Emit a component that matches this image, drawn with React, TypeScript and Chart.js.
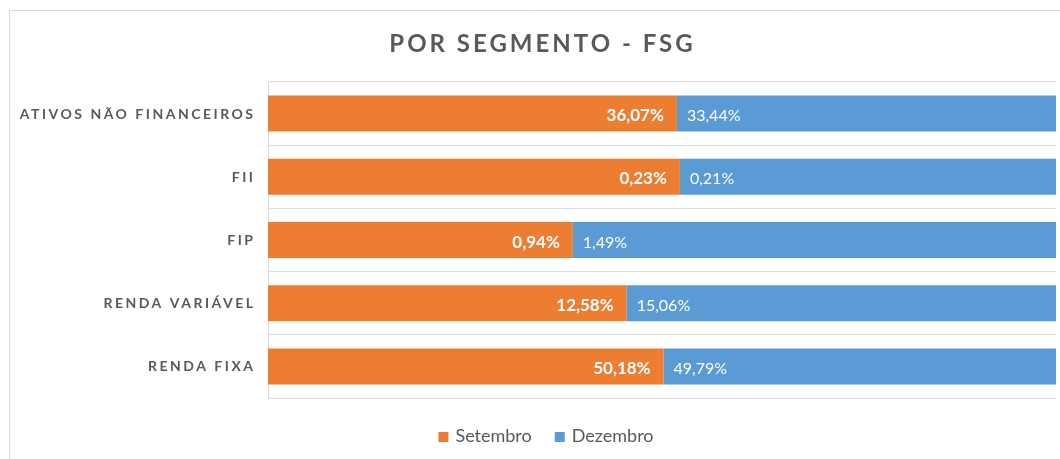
import React, { useEffect, useRef } from 'react';
import { Chart, registerables } from 'chart.js';

Chart.register(...registerables);

const categories = ['ATIVOS NÃO FINANCEIROS', 'FII', 'FIP', 'RENDA VARIÁVEL', 'RENDA FIXA'];
const setembro = [36.07, 0.23, 0.94, 12.58, 50.18];
const dezembro = [33.44, 0.21, 1.49, 15.06, 49.79];
const seriesNames = ['Setembro', 'Dezembro'];
const seriesColors = ['#ED7D31', '#5B9BD5'];
const chartTitle = 'POR SEGMENTO - FSG';

const FONT = 'Lato, "Open Sans", sans-serif';
const TEXT = '#595959';
const rawSeries = [setembro, dezembro];

const fmt = (v: number) => v.toFixed(2).replace('.', ',') + '%';

const decor = {
  id: 'decor',
  beforeDraw(chart: any) {
    const ctx = chart.ctx;
    ctx.save();
    ctx.fillStyle = '#ffffff';
    ctx.fillRect(0, 0, chart.width, chart.height);
    ctx.strokeStyle = '#D9D9D9';
    ctx.lineWidth = 1;
    ctx.beginPath();
    ctx.moveTo(9.5, chart.height);
    ctx.lineTo(9.5, 10.5);
    ctx.lineTo(chart.width, 10.5);
    ctx.stroke();
    ctx.restore();
  },
  afterDatasetsDraw(chart: any) {
    const ctx = chart.ctx;
    ctx.save();
    chart.data.datasets.forEach((ds: any, di: number) => {
      const meta = chart.getDatasetMeta(di);
      meta.data.forEach((el: any, i: number) => {
        const label = fmt(rawSeries[di][i]);
        ctx.fillStyle = '#ffffff';
        ctx.textBaseline = 'alphabetic';
        if (di === 0) {
          ctx.font = `bold 17px ${FONT}`;
          ctx.textAlign = 'right';
          ctx.fillText(label, el.x - 13, el.y + 7.5);
        } else {
          ctx.font = `16px ${FONT}`;
          ctx.textAlign = 'left';
          ctx.fillText(label, el.base + 10, el.y + 7.5);
        }
      });
    });
    ctx.restore();
  },
  afterDraw(chart: any) {
    const ctx = chart.ctx;
    const area = chart.chartArea;
    ctx.save();
    // Title
    ctx.fillStyle = TEXT;
    ctx.font = `bold 24px ${FONT}`;
    (ctx as any).letterSpacing = '3px';
    ctx.textAlign = 'left';
    ctx.textBaseline = 'alphabetic';
    const tw = ctx.measureText(chartTitle).width - 3;
    ctx.fillText(chartTitle, 541 - tw / 2, 52);

    // Category labels
    ctx.font = `bold 14px ${FONT}`;
    (ctx as any).letterSpacing = '2.5px';
    ctx.textAlign = 'right';
    const yScale = chart.scales.y;
    categories.forEach((c, i) => {
      const y = yScale.getPixelForTick(i);
      ctx.fillText(c, area.left - 12.5, y + 5);
    });

    // Legend
    (ctx as any).letterSpacing = '0px';
    ctx.font = `18px ${FONT}`;
    ctx.textAlign = 'left';
    const box = 10;
    const gap = 7;
    const itemGap = 23;
    const widths = seriesNames.map((n) => box + gap + ctx.measureText(n).width);
    const total = widths.reduce((a, b) => a + b, 0) + itemGap * (seriesNames.length - 1);
    let x = 546 - total / 2;
    seriesNames.forEach((n, i) => {
      ctx.fillStyle = seriesColors[i];
      ctx.fillRect(x, 432, box, box);
      ctx.fillStyle = TEXT;
      ctx.fillText(n, x + box + gap, 442);
      x += widths[i] + itemGap;
    });
    ctx.restore();
  },
};

export default function App() {
  const ref = useRef<HTMLCanvasElement | null>(null);

  useEffect(() => {
    if (!ref.current) return;
    const shares = [
      setembro.map((v, i) => (v / (v + dezembro[i])) * 100),
      dezembro.map((v, i) => (v / (v + setembro[i])) * 100),
    ];
    const chart = new Chart(ref.current, {
      type: 'bar',
      data: {
        labels: categories,
        datasets: seriesNames.map((name, i) => ({
          label: name,
          data: shares[i],
          backgroundColor: seriesColors[i],
          borderWidth: 0,
          barPercentage: 0.57,
          categoryPercentage: 1,
        })),
      },
      options: {
        indexAxis: 'y',
        responsive: false,
        animation: false,
        layout: { padding: { left: 268, right: 4, top: 82, bottom: 61 } },
        plugins: {
          legend: { display: false },
          title: { display: false },
          tooltip: { enabled: false },
        },
        scales: {
          x: { stacked: true, min: 0, max: 100, display: false },
          y: {
            stacked: true,
            ticks: { display: false },
            grid: { color: '#D9D9D9', drawTicks: false, offset: true },
            border: { display: true, color: '#D9D9D9' },
          },
        },
      },
      plugins: [decor],
    });
    (document as any).fonts?.load(`bold 14px Lato`).then(() => chart.draw()).catch(() => {});
    return () => chart.destroy();
  }, []);

  return (
    <div style={{ position: 'absolute', left: 0, top: 0, width: 1060, height: 459 }}>
      <canvas ref={ref} width={1060} height={459} style={{ display: 'block' }} />
    </div>
  );
}
